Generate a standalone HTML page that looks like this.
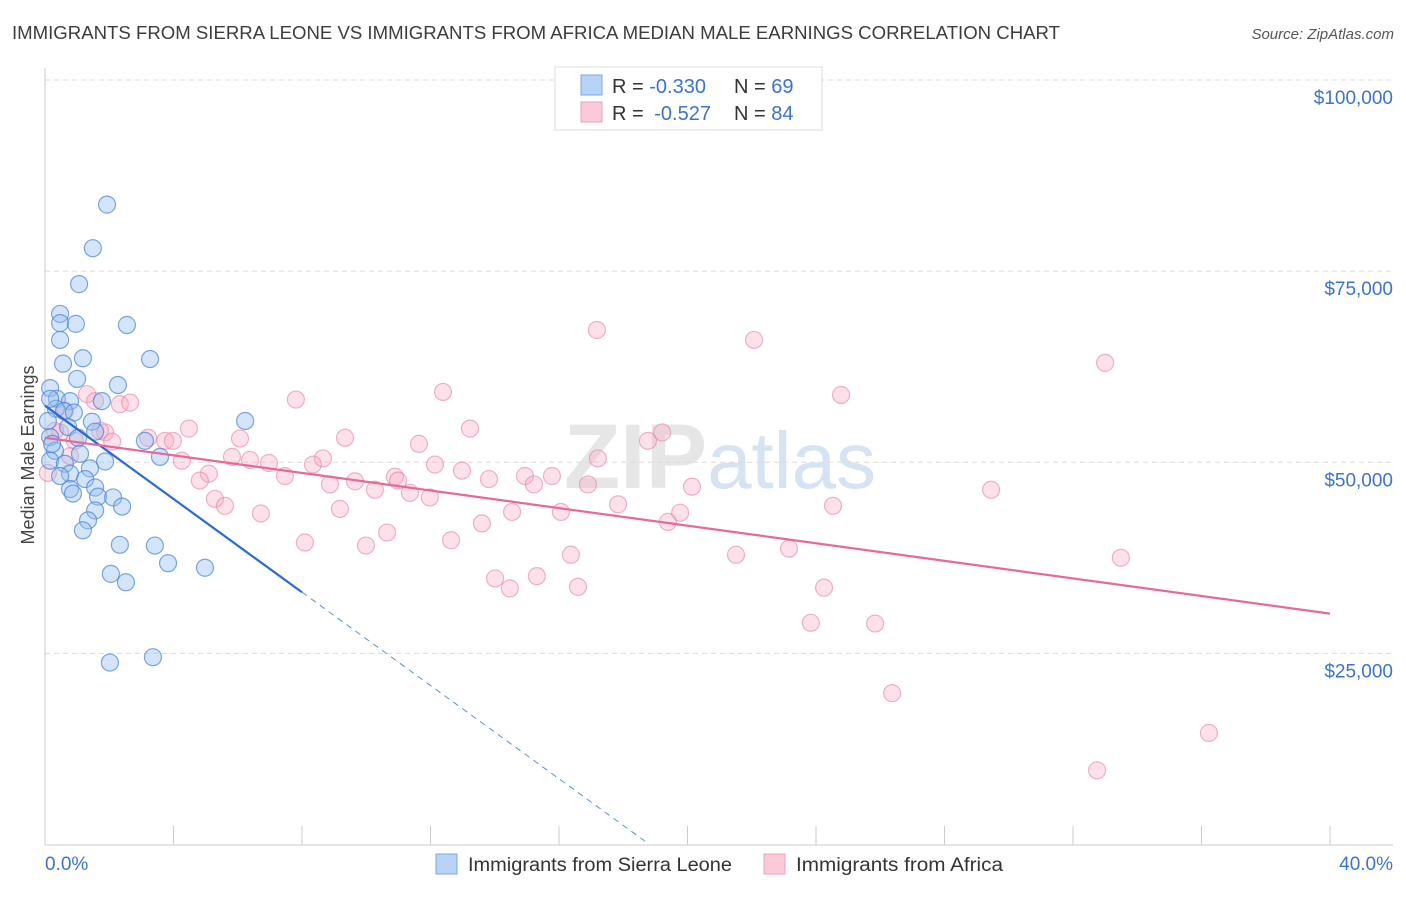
<!DOCTYPE html>
<html><head><meta charset="utf-8"><style>
body{margin:0;background:#fff;font-family:"Liberation Sans",sans-serif;}
svg text{font-family:"Liberation Sans",sans-serif;}
</style></head><body>
<svg id="chart" width="1406" height="892" xmlns="http://www.w3.org/2000/svg">
<text x="12" y="39" font-size="18.5" fill="#3c3c3c" textLength="1048" lengthAdjust="spacingAndGlyphs">IMMIGRANTS FROM SIERRA LEONE VS IMMIGRANTS FROM AFRICA MEDIAN MALE EARNINGS CORRELATION CHART</text>
<text x="1394" y="39" font-size="15" fill="#555" text-anchor="end" font-style="italic">Source: ZipAtlas.com</text>
<text x="720" y="488" font-size="92" text-anchor="middle" fill="#e6e6e6" font-family="Liberation Serif"><tspan font-weight="bold">ZIP</tspan><tspan fill="#d6e3f3" font-family="Liberation Sans" font-size="80">atlas</tspan></text>
<text transform="translate(34,455) rotate(-90)" font-size="18" fill="#444" text-anchor="middle">Median Male Earnings</text>
<g id="grid"></g>
<g id="axes"></g>
<g id="marks"></g>
<g>
<rect x="555" y="67" width="267" height="63" fill="#fff" stroke="#ddd"/>
<rect x="581" y="75" width="21" height="20" fill="#b8d3f5" stroke="#7aaae6"/>
<rect x="581" y="102" width="21" height="20" fill="#fbc9d8" stroke="#f0a0b8"/>
<text x="612" y="93" font-size="20" fill="#333">R = <tspan fill="#3a73d1">-0.330</tspan><tspan x="734">N = </tspan><tspan fill="#3a73d1">69</tspan></text>
<text x="612" y="120" font-size="20" fill="#333">R = <tspan fill="#3a73d1" dx="5">-0.527</tspan><tspan x="734">N = </tspan><tspan fill="#3a73d1">84</tspan></text>
</g>
<g>
<rect x="436" y="854" width="21" height="20" fill="#b8d3f5" stroke="#7aaae6"/>
<text x="468" y="871" font-size="19" fill="#333" textLength="264" lengthAdjust="spacingAndGlyphs">Immigrants from Sierra Leone</text>
<rect x="764" y="854" width="21" height="20" fill="#fbc9d8" stroke="#f0a0b8"/>
<text x="796" y="871" font-size="19" fill="#333" textLength="207" lengthAdjust="spacingAndGlyphs">Immigrants from Africa</text>
</g>
</svg>
<script>
const xTicks=[0,4,8,12,16,20,24,28,32,36,40];
const yTicks=[25000,50000,75000,100000];
const yTickLabels=["$25,000","$50,000","$75,000","$100,000"];
const blueX=[1.93,1.49,1.06,0.47,0.47,0.96,2.55,0.47,3.27,1.18,0.56,1.0,2.27,0.16,0.37,0.78,1.77,0.34,0.59,0.9,6.23,1.46,0.72,1.56,0.16,1.03,3.11,0.31,3.58,1.09,0.16,1.87,0.62,1.4,0.78,0.47,1.25,1.56,0.78,1.65,0.87,2.12,2.4,1.56,1.34,1.18,2.33,3.42,3.83,4.98,2.05,2.52,2.02,3.36,0.16,0.09,0.22];
const blueY=[83700,78000,73300,69400,68200,68100,67950,66000,63500,63600,62900,60900,60100,59700,58300,58000,58000,57000,56700,56500,55400,55300,54600,54000,53300,53200,52800,51500,50700,51100,50200,50100,49800,49200,48500,48200,47800,46700,46500,45500,45900,45400,44200,43700,42400,41100,39200,39100,36800,36200,35400,34300,23800,24500,58300,55400,52400];
const pinkX=[17.18,22.07,33.0,12.39,24.78,1.31,2.33,7.81,2.65,19.21,13.23,9.34,4.48,6.07,11.64,0.47,1.87,2.09,3.21,3.74,3.98,18.77,17.21,5.82,6.38,6.97,4.26,12.14,12.98,8.65,8.34,5.1,7.47,9.65,8.87,10.89,10.99,10.27,11.36,11.98,14.94,15.78,13.82,15.22,16.9,20.14,29.45,4.82,5.29,5.6,9.18,14.54,16.06,17.84,19.77,24.53,6.72,13.6,19.39,10.65,8.09,9.99,12.64,16.37,21.51,23.16,14.01,15.31,16.59,14.47,24.25,23.84,25.84,26.37,33.49,36.23,32.75,0.09,0.31,0.62,0.93,1.71,1.56,0.78];
const pinkY=[67300,66000,63000,59200,58800,58900,57600,58200,57800,53900,54400,53200,54400,53100,52400,53900,53900,52700,53200,52800,52800,52800,50500,50700,50300,49900,50200,49700,48900,50500,49700,48500,48200,47500,47100,48100,47600,46400,46000,45400,48200,48200,47800,47100,47100,46800,46400,47600,45200,44300,43900,43500,43500,44500,43400,44300,43300,42000,42200,40800,39500,39100,39800,37900,37900,38700,34800,35100,33700,33500,33600,29000,28900,19800,37500,14600,9700,48600,54100,56700,52800,54100,58000,50800];
const blueTrend=[57400,33000];   // at x=0 and x=8
const blueTrendX=[0,8,18.8];
const pinkTrend=[53200,30200];   // at x=0 and x=40
const pinkTrendX=[0,40];

const NS="http://www.w3.org/2000/svg";
const sx=v=>45+v/40*1285;
const sy=v=>844.5-v/100000*764.5;
function mk(tag,attrs,parent){const e=document.createElementNS(NS,tag);for(const k in attrs)e.setAttribute(k,attrs[k]);document.getElementById(parent).appendChild(e);return e;}

yTicks.forEach((t,i)=>{
  const g=mk('line',{x1:45,x2:1393,y1:sy(t),y2:sy(t),stroke:'#dcdcdc','stroke-dasharray':'5,4'},'grid');
  
  
  const l=mk('text',{x:1393,y:sy(t)+24,'font-size':19,fill:'#3a73d1','text-anchor':'end'},'axes');
  l.textContent=yTickLabels[i];
  
  
});
let ax=mk('line',{x1:45,x2:1393,y1:845,y2:845,stroke:'#ccc'},'axes');


let ay=mk('line',{x1:45,x2:45,y1:68,y2:845,stroke:'#ccc'},'axes');


xTicks.forEach(t=>{
  const k=mk('line',{x1:sx(t),x2:sx(t),y1:826,y2:845,stroke:'#ccc'},'axes');
  
  
});
let xl0=mk('text',{x:45,y:870,'font-size':19,fill:'#3a73d1'},'axes');xl0.textContent=xTicks[0].toFixed(1)+'%';


let xl1=mk('text',{x:1393,y:870,'font-size':19,fill:'#3a73d1','text-anchor':'end'},'axes');xl1.textContent=xTicks[xTicks.length-1].toFixed(1)+'%';



pinkX.forEach((x,i)=>{
  const c=mk('circle',{cx:sx(x),cy:sy(pinkY[i]),r:8.5,fill:'rgba(247,170,195,0.35)',stroke:'rgba(232,130,165,0.6)','stroke-width':1.2},'marks');
  
  
});
blueX.forEach((x,i)=>{
  const c=mk('circle',{cx:sx(x),cy:sy(blueY[i]),r:8.5,fill:'rgba(150,190,240,0.4)',stroke:'rgba(70,130,215,0.7)','stroke-width':1.2},'marks');
  
  
});
const bslope=(blueTrend[1]-blueTrend[0])/blueTrendX[1];
let bl=mk('line',{x1:sx(0),y1:sy(blueTrend[0]),x2:sx(blueTrendX[1]),y2:sy(blueTrend[1]),stroke:'#2a6ad6','stroke-width':2.2},'marks');


let bd=mk('line',{x1:sx(blueTrendX[1]),y1:sy(blueTrend[1]),x2:sx(blueTrendX[2]),y2:sy(blueTrend[0]+bslope*blueTrendX[2]),stroke:'#5a8ee0','stroke-width':1,'stroke-dasharray':'6,5'},'marks');


let pl=mk('line',{x1:sx(pinkTrendX[0]),y1:sy(pinkTrend[0]),x2:sx(pinkTrendX[1]),y2:sy(pinkTrend[1]),stroke:'#e8689a','stroke-width':2.2},'marks');


</script>
</body></html>
